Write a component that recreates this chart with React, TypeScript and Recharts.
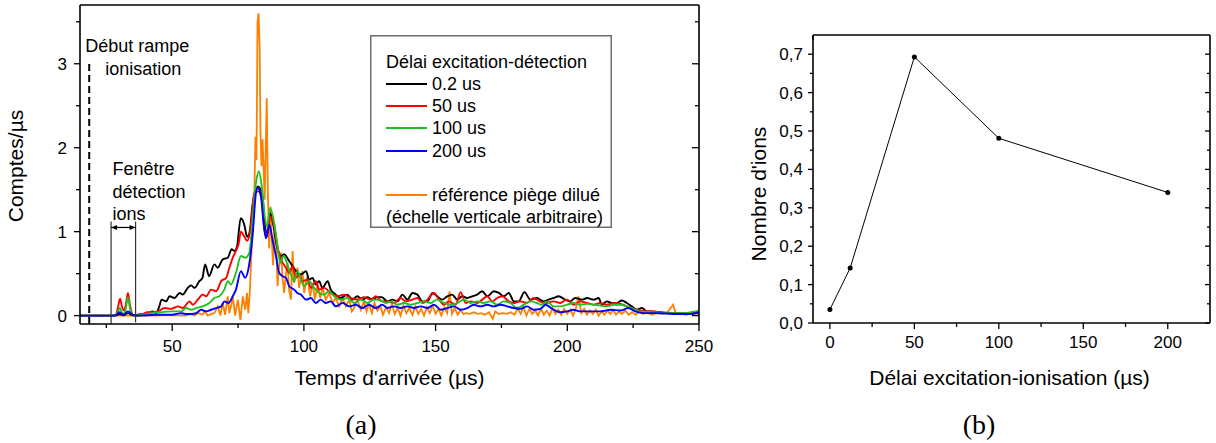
import { LineChart, Line, XAxis, YAxis, ReferenceLine, Legend } from "recharts";

const SANS = "'Liberation Sans', Arial, sans-serif";
const SERIF = "'Liberation Serif', 'Times New Roman', serif";

// (a) arrival-time spectra, [time µs, counts/µs]
const delay02 = [
  [15, 0], [27, 0], [29, 0.005], [30, 0.02], [31.5, 0.005], [33.2, 0.03], [35, 0.005], [37, 0.01], [39, 0.02],
  [41, 0.03], [42.5, 0.05], [44, 0.03], [45, 0.1], [46, 0.19], [47.7, 0.17], [49, 0.23], [50.9, 0.21], [52.8, 0.27],
  [54, 0.25], [55.9, 0.33], [57.2, 0.36], [58.5, 0.33], [60.3, 0.41], [61.5, 0.45], [62.5, 0.61], [64, 0.47],
  [66, 0.61], [67.3, 0.57], [69.2, 0.67], [71.1, 0.69], [72.6, 0.79], [73.6, 0.77], [74.6, 0.82], [76, 1.16],
  [77.4, 1.08], [78.4, 0.94], [79.3, 0.98], [80.6, 1.34], [82.6, 1.54], [84.3, 1.42], [85.2, 1.06], [86.2, 0.98],
  [87.2, 1.22], [88.5, 1.06], [89.8, 0.82], [91.3, 0.71], [92.5, 0.73], [94.4, 0.65], [95.7, 0.59], [97, 0.53],
  [98.2, 0.49], [99.5, 0.5], [100.8, 0.53], [102, 0.43], [103.3, 0.45], [104.5, 0.37], [105.8, 0.41], [107, 0.33],
  [109, 0.41], [110.2, 0.31], [112.1, 0.25], [114, 0.21], [116.5, 0.25], [118.4, 0.19], [120.3, 0.23], [122.2, 0.19],
  [124.1, 0.22], [126, 0.19], [127.9, 0.22], [129.5, 0.22], [131.7, 0.17], [133.6, 0.19], [135.5, 0.17], [137.4, 0.25],
  [139.3, 0.19], [141.2, 0.27], [143.1, 0.25], [145, 0.17], [146.9, 0.17], [148.8, 0.27], [150.6, 0.23], [152.5, 0.19],
  [154.4, 0.23], [156.3, 0.25], [158.2, 0.19], [160.1, 0.23], [162, 0.21], [163.9, 0.23], [165.8, 0.25], [167.7, 0.29],
  [169.6, 0.23], [172.1, 0.29], [174, 0.27], [175.9, 0.23], [177.8, 0.27], [179.7, 0.17], [181.6, 0.17], [183.7, 0.28],
  [186, 0.19], [188.5, 0.21], [191, 0.17], [192.9, 0.19], [194.8, 0.21], [196.7, 0.23], [199.2, 0.19], [201.1, 0.17],
  [203, 0.21], [205.6, 0.19], [207.5, 0.21], [210, 0.19], [211.9, 0.21], [213.1, 0.13], [215, 0.17], [216.9, 0.15],
  [218.8, 0.15], [220.7, 0.18], [222.6, 0.15], [224.5, 0.11], [226.4, 0.07], [228.3, 0.09], [230.2, 0.05],
  [232.7, 0.05], [235.2, 0.04], [237.8, 0.03], [242.8, 0.03], [246.6, 0.02], [250, 0.04],
];

const delay50 = [
  [15, 0], [28.5, 0], [29.3, 0.08], [30.2, 0.2], [31, 0.1], [31.7, 0.06], [32.5, 0.15], [33.2, 0.27], [34, 0.12],
  [35, 0.01], [36, 0], [38, 0.01], [40.8, 0.04], [42.5, 0.04], [44.6, 0.05], [47.1, 0.09], [49.6, 0.08], [52.2, 0.11],
  [54, 0.09], [56.6, 0.17], [57.8, 0.13], [59.7, 0.19], [61.6, 0.25], [62.9, 0.23], [64.8, 0.31], [66.7, 0.29],
  [68.6, 0.41], [70.5, 0.45], [71.7, 0.57], [73, 0.69], [74.2, 0.77], [75.2, 0.85], [76.1, 1.0], [77.4, 0.94],
  [78.4, 0.89], [79.7, 1.02], [81.2, 1.46], [82.7, 1.48], [84, 1.38], [85, 1.02], [86, 0.94], [87.2, 1.18],
  [88.8, 1.06], [90, 0.82], [91.3, 0.67], [93.2, 0.57], [94.4, 0.51], [95.7, 0.59], [97, 0.45], [98.2, 0.49],
  [99.5, 0.41], [101.4, 0.43], [102.7, 0.33], [104.5, 0.41], [105.8, 0.31], [107.7, 0.33], [110.2, 0.27],
  [112.8, 0.23], [115.3, 0.25], [117.8, 0.21], [120.3, 0.19], [122.8, 0.22], [125.4, 0.19], [127.3, 0.23],
  [129.8, 0.17], [131.7, 0.17], [134.2, 0.15], [136.7, 0.21], [138.6, 0.17], [141.2, 0.19], [143.1, 0.21], [145, 0.15],
  [146.9, 0.19], [149.4, 0.27], [151.3, 0.19], [153.2, 0.13], [155, 0.17], [157.6, 0.13], [159.5, 0.28], [161.4, 0.15],
  [163.3, 0.17], [165.8, 0.15], [167.7, 0.19], [169.6, 0.23], [171.5, 0.17], [173.4, 0.21], [175.3, 0.23],
  [177.8, 0.17], [179.7, 0.15], [182.2, 0.17], [184.7, 0.15], [187.2, 0.21], [189.5, 0.17], [192, 0.15],
  [194.8, 0.17], [197.3, 0.15], [199.9, 0.19], [202.4, 0.13], [204.9, 0.17], [207.5, 0.15], [210, 0.13],
  [212.5, 0.15], [215, 0.13], [217.5, 0.15], [220.1, 0.14], [222.6, 0.11], [225.1, 0.08], [227.7, 0.06],
  [231.4, 0.05], [235.2, 0.04], [240.2, 0.03], [245.3, 0.02], [250, 0.04],
];

const delay100 = [
  [15, 0], [28.5, 0], [29.3, 0.04], [30.1, 0.09], [31, 0.03], [31.8, 0.02], [32.5, 0.1], [33.2, 0.22], [34, 0.08],
  [35, 0.01], [36, 0], [42, 0.03], [45.8, 0.04], [49.6, 0.05], [53.4, 0.05], [55.3, 0.09], [57.2, 0.07], [59.1, 0.09],
  [61.6, 0.11], [64.1, 0.15], [66, 0.21], [67.9, 0.23], [69.8, 0.31], [71.1, 0.41], [72.3, 0.37], [74.2, 0.51],
  [76.1, 0.71], [77.9, 0.69], [79.3, 0.75], [80.6, 1.18], [81.8, 1.58], [82.9, 1.72], [84, 1.54], [85, 1.22],
  [86, 1.06], [87.2, 1.28], [88.5, 1.14], [89.8, 0.87], [91, 0.63], [92.3, 0.71], [93.8, 0.6], [95, 0.49],
  [96.3, 0.41], [97.6, 0.53], [98.9, 0.43], [100.1, 0.35], [102, 0.41], [103.9, 0.33], [105.8, 0.27], [107.7, 0.25],
  [109.6, 0.29], [111.5, 0.23], [114, 0.19], [116.5, 0.21], [119.1, 0.15], [121.6, 0.19], [124.1, 0.15], [126.6, 0.19],
  [129.2, 0.18], [131.1, 0.15], [133, 0.17], [135.5, 0.13], [138, 0.15], [140.5, 0.13], [143.1, 0.15], [145.6, 0.17],
  [148.1, 0.15], [150.6, 0.19], [153.2, 0.15], [155.7, 0.13], [158.2, 0.15], [160.7, 0.19], [163.3, 0.15],
  [165.8, 0.17], [168.3, 0.15], [170.8, 0.17], [173.4, 0.13], [175.9, 0.17], [178.4, 0.15], [180.9, 0.09],
  [183.5, 0.13], [186, 0.17], [188.5, 0.15], [190, 0.13], [192.3, 0.17], [194.8, 0.11], [197.3, 0.11], [199.9, 0.13],
  [202.4, 0.15], [204.9, 0.13], [207.5, 0.14], [210, 0.13], [212.5, 0.12], [215, 0.11], [217.5, 0.13], [220.1, 0.13],
  [222.6, 0.11], [225.1, 0.08], [227.7, 0.05], [232.7, 0.04], [237.8, 0.03], [244.1, 0.03], [250, 0.06],
];

const delay200 = [
  [15, 0], [28.5, 0], [30, 0.04], [31.5, 0.01], [33.2, 0.05], [35, 0.01], [36, 0], [45, 0.01], [50, 0.01],
  [53.4, 0.03], [55, 0.02], [57.2, 0.02], [59.1, 0.03], [61, 0.07], [62.9, 0.05], [64.8, 0.07], [66.7, 0.09],
  [68.6, 0.11], [69.8, 0.17], [71.3, 0.15], [73, 0.23], [74.2, 0.31], [76.1, 0.53], [77.7, 0.45], [78.9, 0.55],
  [80.6, 0.98], [81.8, 1.46], [82.5, 1.52], [83.7, 1.42], [84.7, 1.1], [85.6, 0.92], [86.9, 1.08], [88.1, 0.9],
  [89.4, 0.71], [90.6, 0.51], [91.9, 0.47], [93.2, 0.45], [94.4, 0.35], [96.3, 0.31], [97.5, 0.27], [98.9, 0.25],
  [100.8, 0.19], [102.7, 0.21], [104.5, 0.15], [106.4, 0.19], [108.3, 0.15], [110.2, 0.17], [112.1, 0.11],
  [114.7, 0.15], [117.2, 0.11], [119.7, 0.13], [122.2, 0.09], [124.7, 0.13], [127.3, 0.09], [129.8, 0.13],
  [131.7, 0.09], [134.2, 0.11], [136.7, 0.09], [139.3, 0.11], [141.8, 0.09], [144.3, 0.11], [146.9, 0.09],
  [149.4, 0.13], [151.9, 0.07], [154.4, 0.09], [157, 0.11], [159.5, 0.07], [162, 0.09], [164.5, 0.13], [167, 0.11],
  [169.6, 0.13], [172.1, 0.11], [174.6, 0.13], [177.2, 0.11], [179.7, 0.09], [182.2, 0.08], [184.7, 0.11],
  [187.2, 0.07], [189.8, 0.08], [191.7, 0.13], [194.8, 0.07], [197.3, 0.04], [199.9, 0.05], [202.4, 0.07],
  [204.9, 0.05], [208.7, 0.05], [212.5, 0.05], [216.3, 0.07], [220.1, 0.06], [223.2, 0.09], [225.8, 0.05],
  [228.9, 0.03], [234, 0.03], [240.2, 0.02], [246.6, 0.02], [250, 0.04],
];

const dilutedTrapRef = [
  [15, 0], [40, 0], [50, 0.005], [55, 0], [57, 0.02], [58.5, 0], [60, 0.03], [61.5, 0.01], [62.5, 0.05], [63.5, 0],
  [64.8, 0.02], [66, 0.03], [67.3, 0.11], [68.3, 0], [69.2, 0.15], [70.1, 0.01], [71.1, 0.23], [71.7, 0.03],
  [72.4, 0.12], [73, 0.23], [73.9, 0], [74.9, 0.19], [75.9, -0.05], [76.8, 0.23], [77.7, 0.07], [78.4, 0.27],
  [78.9, 0.03], [79.5, 0.3], [80.2, 0.82], [80.7, 1.2], [81.2, 1.46], [81.6, 2.13], [82, 1.85], [82.4, 3.5],
  [82.8, 3.6], [83.2, 3.2], [83.5, 2.2], [83.9, 1.78], [84.3, 2.1], [84.7, 1.75], [85.1, 1.38], [85.5, 2.0],
  [85.9, 2.59], [86.3, 1.5], [86.8, 0.8], [87.3, 1.3], [87.8, 0.9], [88.3, 0.6], [88.8, 1.0], [89.4, 0.95],
  [90, 0.35], [90.6, 0.6], [91.3, 0.75], [91.9, 0.45], [92.5, 0.27], [93.2, 0.5], [93.8, 0.63], [94.4, 0.3],
  [95.1, 0.19], [95.7, 0.77], [96.3, 0.39], [97, 0.5], [97.6, 0.57], [98.2, 0.33], [98.9, 0.45], [99.5, 0.53],
  [100.1, 0.27], [100.8, 0.4], [101.4, 0.47], [102, 0.3], [102.4, 0.23], [103.3, 0.39], [104.2, 0.19], [105.2, 0.37],
  [106.2, 0.21], [107.1, 0.33], [108.3, 0.19], [109.6, 0.27], [110.9, 0.15], [112.1, 0.21], [113.4, 0.11],
  [114.7, 0.21], [115.9, 0.11], [117.2, 0.19], [118.2, 0.05], [119.1, 0.09], [120.3, 0.19], [121.6, 0.07],
  [122.8, 0.17], [123.8, 0.05], [124.7, 0.14], [125.8, 0.03], [126.8, 0.15], [127.9, 0.06], [129, 0.12], [130, 0.01],
  [131.2, 0.1], [132.3, 0.03], [133.4, 0.14], [134.5, 0.02], [135.6, 0.09], [136.7, 0], [137.8, 0.12], [138.9, 0.03],
  [140, 0.09], [141.2, 0.01], [142.3, 0.11], [143.4, 0.02], [144.5, 0.08], [145.6, 0], [146.7, 0.1], [147.8, 0.03],
  [148.9, 0.12], [150, 0.02], [151.1, 0.08], [152.2, 0], [153.3, 0.1], [154.4, 0.03], [155.3, 0.29], [156.2, 0.02],
  [157.3, 0.09], [158.4, 0.01], [159.5, 0.07], [160.5, 0.02], [161.6, 0.03], [163, 0.02], [164.5, 0.04], [166, 0.02],
  [167.4, 0.03], [168.8, 0.01], [170.3, 0.04], [171.7, -0.04], [172.6, 0.05], [174, 0.02], [175.5, 0.03], [177, 0.02],
  [178.5, 0.04], [180, 0.01], [181.2, 0.09], [182.3, 0.02], [183.4, 0.1], [184.5, 0], [185.6, 0.08], [186.7, 0.02],
  [187.8, 0.06], [188.9, 0], [190, 0.08], [191.1, 0.01], [192.2, 0.06], [193.3, 0], [194.4, 0.09], [195.5, 0.02],
  [196.6, 0.07], [197.7, 0.01], [198.8, 0.08], [200, 0.02], [201.1, 0.07], [202.2, 0], [203.3, 0.09], [204.3, 0.23],
  [205.3, 0.03], [206.4, 0.08], [207.5, 0.01], [208.6, 0.06], [209.7, 0.02], [210.8, 0.07], [211.9, 0], [213, 0.05],
  [214.1, 0.01], [215.2, 0.06], [216.3, 0.02], [217.4, 0.07], [218.5, 0.01], [219.6, 0.05], [220.7, 0.02], [222, 0.06],
  [223.3, 0.01], [224.6, 0.04], [226, 0.01], [227.4, 0.05], [228.8, 0.02], [230.2, 0.04], [232, 0.01], [234, 0.03],
  [236, 0.02], [238, 0.04], [240.2, 0.13], [241.2, 0.02], [243, 0.03], [245, 0.01], [247, 0.03], [250, 0.02],
];

const seriesA = [
  { name: "0.2 us", color: "#000000", points: delay02 },
  { name: "50 us", color: "#ff0000", points: delay50 },
  { name: "100 us", color: "#22c022", points: delay100 },
  { name: "200 us", color: "#0000ff", points: delay200 },
];
const refName = "référence piège dilué";
const refNote = "(échelle verticale arbitraire)";
const refColor = "#ff8000";

// annotation positions (µs)
const rampStart = 18.5;
const windowStart = 26.8;
const windowEnd = 36.1;

const aXTicks = [25, 50, 75, 100, 125, 150, 175, 200, 225, 250];
const aXMajor = [50, 100, 150, 200, 250];
const aYTicks = [0, 0.5, 1, 1.5, 2, 2.5, 3, 3.5];
const aYMajor = [0, 1, 2, 3];

// (b) number of ions vs delay
const delaysB = [0, 12, 50, 100, 200];
const ionsB = [0.035, 0.143, 0.693, 0.481, 0.34];

const bXTicks = [0, 25, 50, 75, 100, 125, 150, 175, 200];
const bXMajor = [0, 50, 100, 150, 200];
const bYTicks = [0, 0.05, 0.1, 0.15, 0.2, 0.25, 0.3, 0.35, 0.4, 0.45, 0.5, 0.55, 0.6, 0.65, 0.7];
const bYMajor = [0, 0.1, 0.2, 0.3, 0.4, 0.5, 0.6, 0.7];

const toRows = (pts: number[][]) => pts.map(([t, v]) => ({ t, v }));

type Side = "bottom" | "top" | "left" | "right";
interface TickOpts {
  major: number;
  minor: number;
  labels?: boolean;
  gap?: number;
  fmt?: (v: number) => string;
}

function axisTick(side: Side, majors: number[], o: TickOpts) {
  return (props: any) => {
    const { x, y, payload } = props;
    const v = Number(payload.value);
    const isMajor = majors.some((m) => Math.abs(m - v) < 1e-6);
    const len = isMajor ? o.major : o.minor;
    const txt = o.labels && isMajor ? (o.fmt ? o.fmt(v) : String(v)) : null;
    const ln = { stroke: "#000", strokeWidth: 1.3 };
    if (side === "bottom") {
      return (
        <g>
          <line x1={x} x2={x} y1={y} y2={y + len} {...ln} />
          {txt && (
            <text x={x} y={y + (o.gap || 0)} textAnchor="middle" fontFamily={SANS} fontSize={17} fill="#000">
              {txt}
            </text>
          )}
        </g>
      );
    }
    if (side === "top") return <line x1={x} x2={x} y1={y} y2={y + len} {...ln} />;
    if (side === "left") {
      return (
        <g>
          <line x1={x - len} x2={x} y1={y} y2={y} {...ln} />
          {txt && (
            <text x={x - len - (o.gap || 0)} y={y + 6} textAnchor="end" fontFamily={SANS} fontSize={17} fill="#000">
              {txt}
            </text>
          )}
        </g>
      );
    }
    return <line x1={x - len} x2={x} y1={y} y2={y} {...ln} />;
  };
}

const axisLineStyle = { stroke: "#000", strokeWidth: 1.6 };

const renderLegendA = () => {
  const rowsY = [49, 71, 93, 116];
  return (
    <svg width={242} height={193} style={{ display: "block" }}>
      <rect x={0.75} y={0.75} width={240.5} height={191.5} fill="#fff" stroke="#6e6e6e" strokeWidth={1.5} />
      <text x={16} y={33} fontFamily={SANS} fontSize={18} fill="#000">
        Délai excitation-détection
      </text>
      {seriesA.map((s, i) => (
        <g key={s.name}>
          <line x1={16} x2={57} y1={rowsY[i]} y2={rowsY[i]} stroke={s.color} strokeWidth={2} />
          <text x={62} y={rowsY[i] + 6} fontFamily={SANS} fontSize={18} fill="#000">
            {s.name}
          </text>
        </g>
      ))}
      <line x1={16} x2={57} y1={160} y2={160} stroke={refColor} strokeWidth={2} />
      <text x={62} y={166} fontFamily={SANS} fontSize={18} fill="#000">
        {refName}
      </text>
      <text x={16} y={188} fontFamily={SANS} fontSize={18} fill="#000">
        {refNote}
      </text>
    </svg>
  );
};

const annText = { fontFamily: SANS, fontSize: 18, fill: "#000" };

function PanelA() {
  return (
    <LineChart width={716} height={443} margin={{ top: 4, right: 16, bottom: 0, left: 0 }}>
      <XAxis
        dataKey="t"
        type="number"
        domain={[15, 250]}
        allowDataOverflow
        ticks={aXTicks}
        interval={0}
        height={119}
        tickSize={0}
        tickMargin={0}
        tickLine={false}
        axisLine={axisLineStyle}
        tick={axisTick("bottom", aXMajor, { major: 7, minor: 4, labels: true, gap: 28 })}
        label={() => (
          <text x={389.5} y={385} textAnchor="middle" fontFamily={SANS} fontSize={21} fill="#000">
            Temps d'arrivée (µs)
          </text>
        )}
      />
      <XAxis
        xAxisId="top"
        orientation="top"
        type="number"
        domain={[15, 250]}
        allowDataOverflow
        ticks={aXTicks}
        interval={0}
        height={1}
        tickSize={0}
        tickMargin={0}
        tickLine={false}
        axisLine={axisLineStyle}
        tick={axisTick("top", aXMajor, { major: 7, minor: 4 })}
      />
      <YAxis
        type="number"
        domain={[-0.1, 3.7]}
        allowDataOverflow
        ticks={aYTicks}
        interval={0}
        width={80}
        tickSize={0}
        tickMargin={0}
        tickLine={false}
        axisLine={axisLineStyle}
        tick={axisTick("left", aYMajor, { major: 6, minor: 4, labels: true, gap: 7 })}
        label={() => (
          <text
            x={23}
            y={166}
            transform="rotate(-90 23 166)"
            textAnchor="middle"
            fontFamily={SANS}
            fontSize={21}
            fill="#000"
          >
            Comptes/µs
          </text>
        )}
      />
      <YAxis
        yAxisId="right"
        orientation="right"
        type="number"
        domain={[-0.1, 3.7]}
        allowDataOverflow
        ticks={aYTicks}
        interval={0}
        width={1}
        tickSize={0}
        tickMargin={0}
        tickLine={false}
        axisLine={axisLineStyle}
        tick={axisTick("right", aYMajor, { major: 7, minor: 4 })}
      />
      <Line
        data={toRows(dilutedTrapRef)}
        dataKey="v"
        name={refName}
        type="linear"
        stroke={refColor}
        strokeWidth={1.8}
        dot={false}
        isAnimationActive={false}
      />
      {seriesA.map((s) => (
        <Line
          key={s.name}
          data={toRows(s.points)}
          dataKey="v"
          name={s.name}
          type="monotone"
          stroke={s.color}
          strokeWidth={1.9}
          dot={false}
          isAnimationActive={false}
        />
      ))}
      <ReferenceLine
        ifOverflow="visible"
        segment={[
          { x: rampStart, y: -0.1 },
          { x: rampStart, y: 3.0 },
        ]}
        shape={(p: any) => {
          const top = Math.min(p.y1, p.y2);
          return (
            <g>
              <line x1={p.x1} x2={p.x2} y1={p.y1} y2={p.y2} stroke="#000" strokeWidth={2} strokeDasharray="7 4" />
              <text x={p.x1 - 4} y={top - 12} {...annText}>
                Début rampe
              </text>
              <text x={p.x1 + 16} y={top + 11} {...annText}>
                ionisation
              </text>
            </g>
          );
        }}
      />
      <ReferenceLine
        ifOverflow="visible"
        segment={[
          { x: windowStart, y: -0.1 },
          { x: windowStart, y: 1.12 },
        ]}
        shape={(p: any) => {
          const top = Math.min(p.y1, p.y2);
          return (
            <g>
              <line x1={p.x1} x2={p.x2} y1={p.y1} y2={p.y2} stroke="#333" strokeWidth={1.2} />
              <text x={p.x1 + 1.5} y={top - 47} {...annText}>
                Fenêtre
              </text>
              <text x={p.x1 + 1.5} y={top - 24} {...annText}>
                détection
              </text>
              <text x={p.x1 + 1.5} y={top - 2} {...annText}>
                ions
              </text>
            </g>
          );
        }}
      />
      <ReferenceLine
        ifOverflow="visible"
        segment={[
          { x: windowEnd, y: -0.08 },
          { x: windowEnd, y: 1.12 },
        ]}
        stroke="#333"
        strokeWidth={1.2}
      />
      <ReferenceLine
        ifOverflow="visible"
        segment={[
          { x: windowStart, y: 1.05 },
          { x: windowEnd, y: 1.05 },
        ]}
        shape={(p: any) => {
          const a = Math.min(p.x1, p.x2);
          const b = Math.max(p.x1, p.x2);
          const y = p.y1;
          return (
            <g>
              <line x1={a} x2={b} y1={y} y2={y} stroke="#000" strokeWidth={1.2} />
              <path d={`M${a},${y} L${a + 6},${y - 2.5} L${a + 6},${y + 2.5} Z`} fill="#000" />
              <path d={`M${b},${y} L${b - 6},${y - 2.5} L${b - 6},${y + 2.5} Z`} fill="#000" />
            </g>
          );
        }}
      />
      <Legend
        layout="horizontal"
        verticalAlign="middle"
        align="center"
        content={renderLegendA}
        wrapperStyle={{ position: "absolute", left: 370, top: 35, width: 242, height: 193 }}
      />
    </LineChart>
  );
}

const fmtComma = (v: number) => v.toFixed(1).replace(".", ",");

function PanelB() {
  const rows = delaysB.map((d, i) => ({ d, n: ionsB[i] }));
  return (
    <LineChart width={516} height={443} data={rows} margin={{ top: 34, right: 5, bottom: 0, left: 0 }}>
      <XAxis
        dataKey="d"
        type="number"
        domain={[-10, 225]}
        allowDataOverflow
        ticks={bXTicks}
        interval={0}
        height={120}
        tickSize={0}
        tickMargin={0}
        tickLine={false}
        axisLine={axisLineStyle}
        tick={axisTick("bottom", bXMajor, { major: 6, minor: 4, labels: true, gap: 25 })}
        label={() => (
          <text x={309.5} y={385} textAnchor="middle" fontFamily={SANS} fontSize={21} fill="#000">
            Délai excitation-ionisation (µs)
          </text>
        )}
      />
      <XAxis
        xAxisId="top"
        orientation="top"
        type="number"
        domain={[-10, 225]}
        allowDataOverflow
        ticks={bXTicks}
        interval={0}
        height={1}
        tickSize={0}
        tickMargin={0}
        tickLine={false}
        axisLine={axisLineStyle}
        tick={axisTick("top", bXMajor, { major: 5, minor: 3 })}
      />
      <YAxis
        type="number"
        domain={[0, 0.75]}
        allowDataOverflow
        ticks={bYTicks}
        interval={0}
        width={113}
        tickSize={0}
        tickMargin={0}
        tickLine={false}
        axisLine={axisLineStyle}
        tick={axisTick("left", bYMajor, { major: 5, minor: 3, labels: true, gap: 5, fmt: fmtComma })}
        label={() => (
          <text
            x={66}
            y={194}
            transform="rotate(-90 66 194)"
            textAnchor="middle"
            fontFamily={SANS}
            fontSize={21}
            fill="#000"
          >
            Nombre d'ions
          </text>
        )}
      />
      <YAxis
        yAxisId="right"
        orientation="right"
        type="number"
        domain={[0, 0.75]}
        allowDataOverflow
        ticks={bYTicks}
        interval={0}
        width={1}
        tickSize={0}
        tickMargin={0}
        tickLine={false}
        axisLine={axisLineStyle}
        tick={axisTick("right", bYMajor, { major: 5, minor: 3 })}
      />
      <Line
        dataKey="n"
        type="linear"
        stroke="#000"
        strokeWidth={1}
        dot={{ r: 2.5, fill: "#000", stroke: "#000", strokeWidth: 0 }}
        isAnimationActive={false}
      />
    </LineChart>
  );
}

export default function App() {
  return (
    <div style={{ position: "absolute", left: 0, top: 0, width: 1216, height: 443, background: "#fff", overflow: "hidden" }}>
      <div style={{ position: "absolute", left: 0, top: 0 }}>
        <PanelA />
      </div>
      <div style={{ position: "absolute", left: 700, top: 0 }}>
        <PanelB />
      </div>
      <div style={{ position: "absolute", left: 0, top: 0, width: 1216, height: 443, pointerEvents: "none" }}>
        <svg width={1216} height={443}>
          <text x={361} y={434} textAnchor="middle" fontFamily={SERIF} fontSize={28} fill="#000">
            (a)
          </text>
          <text x={979} y={434} textAnchor="middle" fontFamily={SERIF} fontSize={28} fill="#000">
            (b)
          </text>
        </svg>
      </div>
    </div>
  );
}
